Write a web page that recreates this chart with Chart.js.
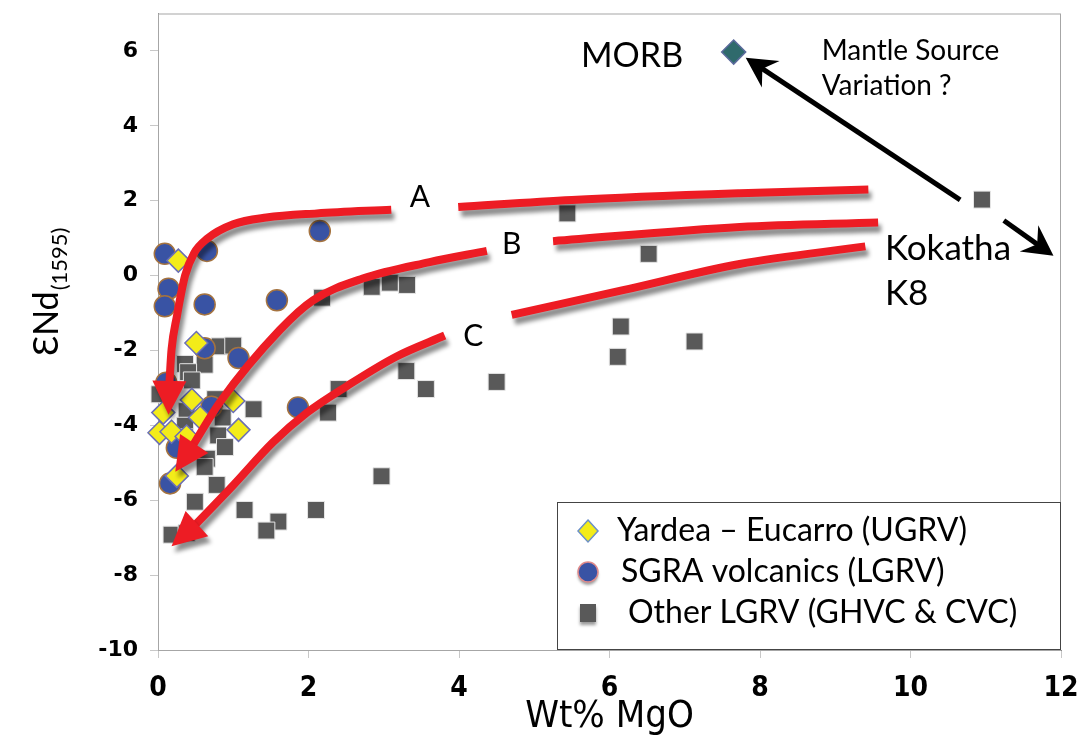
<!DOCTYPE html>
<html>
<head>
    <meta charset="utf-8">
    <title>eNd(1595) vs Wt% MgO</title>
    <style>
        body {
            margin: 0;
            background-color: #fff;
        }
        .wrap {
            position: relative;
            width: 1081px;
            height: 738px;
        }
    </style>
</head>
<body>
    <div class="wrap">
        <canvas id="nd-chart"></canvas>
    </div>

    <script src="https://cdn.jsdelivr.net/npm/chart.js"></script>
    <script>
        // samples as [Wt% MgO, eNd(1595)]
        const yardea = [[0.27, 0.4], [0.51, -1.8], [0.45, -3.32], [1.0, -3.35], [0.07, -3.66], [0.56, -3.79],
            [0.02, -4.2], [0.18, -4.17], [0.38, -4.3], [1.07, -4.12], [0.25, -5.35]];
        const sgra = [[0.09, 0.58], [0.65, 0.66], [2.15, 1.19], [0.14, -0.35], [0.09, -0.82], [0.62, -0.77],
            [1.58, -0.66], [0.62, -1.94], [1.07, -2.2], [0.11, -2.86], [0.71, -3.5], [1.86, -3.52],
            [0.25, -4.6], [0.16, -5.55]];
        const otherLgrv = [[5.44, 1.66], [10.95, 2.03], [6.52, 0.58], [6.15, -1.36], [6.11, -2.17], [7.13, -1.76],
            [2.18, -0.59], [2.84, -0.3], [3.08, -0.19], [3.31, -0.25], [3.3, -2.55], [3.56, -3.03],
            [4.5, -2.84], [2.4, -3.03], [2.26, -3.66], [2.97, -5.36], [2.1, -6.26], [1.6, -6.57],
            [1.44, -6.81], [1.15, -6.26], [1.27, -3.57], [0.82, -1.89], [1.0, -1.87], [0.62, -2.38],
            [0.36, -2.36], [0.4, -2.58], [0.45, -2.8], [0.02, -3.17], [0.76, -3.3], [0.86, -3.79],
            [0.38, -3.62], [0.36, -4.01], [0.8, -4.27], [0.89, -4.58], [0.65, -4.89], [0.62, -5.11],
            [0.78, -5.59], [0.49, -6.04], [0.18, -6.92], [0.38, -6.88], [0.36, -4.32]];
        const morb = [[7.65, 5.97]];

        // hand drawn trends A, B, C, each broken where its letter sits
        const trendA1 = [[0.15, -2.91], [0.18, -1.98], [0.25, -1.1], [0.36, 0.0], [0.48, 0.6], [0.65, 0.98],
            [1.0, 1.37], [1.44, 1.55], [2.11, 1.66], [3.1, 1.76]];
        const trendA2 = [[3.99, 1.83], [5.5, 2.02], [7.73, 2.2], [9.44, 2.3]];
        const trendB1 = [[0.45, -4.58], [0.82, -3.39], [1.62, -1.45], [2.06, -0.66], [2.72, -0.08],
            [3.61, 0.36], [4.37, 0.66]];
        const trendB2 = [[5.25, 0.92], [7.73, 1.3], [9.57, 1.42]];
        const trendC1 = [[0.47, -6.71], [1.0, -5.6], [1.53, -4.45], [1.98, -3.66], [2.51, -2.95],
            [3.17, -2.16], [3.81, -1.6]];
        const trendC2 = [[4.7, -1.05], [6.18, -0.39], [7.73, 0.31], [9.4, 0.78]];

        // arrow heads on the trends: [start of head, tip]
        const trendHeads = [[[0.15, -2.91], [0.14, -3.72]], [[0.45, -4.58], [0.23, -5.24]],
            [[0.47, -6.71], [0.18, -7.23]]];
        // mantle source arrows: [from, to]
        const sourceArrows = [[[10.66, 2.02], [7.81, 5.82]], [[11.24, 1.47], [11.9, 0.53]]];

        const noteText = ["MORB", "Mantle Source", "Variation ?", "Kokatha", "K8", "A", "B", "C"];
        const noteAt = [[6.3, 5.86], [8.82, 6.0], [8.82, 5.07], [9.66, 0.71], [9.66, -0.48],
            [3.48, 2.08], [4.7, 0.84], [4.19, -1.62]];

        const seriesNames = ["Yardea \u2013 Eucarro (UGRV)", "SGRA volcanics (LGRV)", "Other LGRV (GHVC & CVC)"];
        const xTickValues = [0, 2, 4, 6, 8, 10, 12];
        const yTickValues = [-10, -8, -6, -4, -2, 0, 2, 4, 6];

        const toPts = arr => arr.map(([x, y]) => ({ x: x, y: y }));
        const RED = "#ed1c24";

        function trend(arr) {
            return {
                data: toPts(arr),
                showLine: true,
                pointRadius: 0,
                borderColor: RED,
                borderWidth: 8,
                cubicInterpolationMode: "monotone",
                order: -1,
                clip: false,
                shadow: true,
            };
        }

        function setShadow(ctx) {
            ctx.shadowColor = "rgba(0,0,0,0.45)";
            ctx.shadowBlur = 4;
            ctx.shadowOffsetX = 3;
            ctx.shadowOffsetY = 6;
        }

        const extras = {
            id: "extras",
            beforeDatasetDraw(chart, args) {
                if (chart.data.datasets[args.index].shadow) {
                    chart.ctx.save();
                    setShadow(chart.ctx);
                }
            },
            afterDatasetDraw(chart, args) {
                if (chart.data.datasets[args.index].shadow) chart.ctx.restore();
            },
            beforeDatasetsDraw(chart) {
                const { ctx, chartArea: a } = chart;
                ctx.save();
                ctx.strokeStyle = "#a6a6a6";
                ctx.lineWidth = 1;
                ctx.strokeRect(a.left + 0.5, a.top + 0.5, a.width - 1, a.height);
                ctx.restore();
            },
            afterDatasetsDraw(chart) {
                const { ctx, scales: { x, y } } = chart;
                const px = p => [x.getPixelForValue(p[0]), y.getPixelForValue(p[1])];

                // red arrow heads
                ctx.save();
                setShadow(ctx);
                ctx.fillStyle = RED;
                trendHeads.forEach(([from, to]) => {
                    const [x0, y0] = px(from), [x1, y1] = px(to);
                    const len = Math.hypot(x1 - x0, y1 - y0);
                    const dx = (x1 - x0) / len, dy = (y1 - y0) / len;
                    const bx = x1 - dx * 34, by = y1 - dy * 34;
                    ctx.beginPath();
                    ctx.moveTo(x1, y1);
                    ctx.lineTo(bx - dy * 17, by + dx * 17);
                    ctx.lineTo(bx + dy * 17, by - dx * 17);
                    ctx.closePath();
                    ctx.fill();
                });
                ctx.restore();

                // black arrows
                ctx.save();
                ctx.strokeStyle = "#000";
                ctx.fillStyle = "#000";
                ctx.lineWidth = 5;
                sourceArrows.forEach(([from, to]) => {
                    const [x0, y0] = px(from), [x1, y1] = px(to);
                    const len = Math.hypot(x1 - x0, y1 - y0);
                    const dx = (x1 - x0) / len, dy = (y1 - y0) / len;
                    ctx.beginPath();
                    ctx.moveTo(x0, y0);
                    ctx.lineTo(x1 - dx * 18, y1 - dy * 18);
                    ctx.stroke();
                    const bx = x1 - dx * 30, by = y1 - dy * 30;
                    ctx.beginPath();
                    ctx.moveTo(x1, y1);
                    ctx.lineTo(bx - dy * 16, by + dx * 16);
                    ctx.lineTo(x1 - dx * 20, y1 - dy * 20);
                    ctx.lineTo(bx + dy * 16, by - dx * 16);
                    ctx.closePath();
                    ctx.fill();
                });
                ctx.restore();

                // notes
                const sizes = [34, 28, 28, 35, 35, 30, 30, 30];
                ctx.save();
                ctx.fillStyle = "#000";
                ctx.textBaseline = "middle";
                noteText.forEach((t, i) => {
                    ctx.font = sizes[i] + "px Lato";
                    ctx.textAlign = i === 0 || i > 4 ? "center" : "left";
                    const [tx, ty] = px(noteAt[i]);
                    ctx.fillText(t, tx, ty);
                });
                ctx.restore();
            },
            afterDraw(chart) {
                const { ctx, chartArea: a } = chart;

                // y title with subscript
                ctx.save();
                ctx.translate(58, 356);
                ctx.rotate(-Math.PI / 2);
                ctx.fillStyle = "#000";
                ctx.textBaseline = "alphabetic";
                ctx.font = "34px Lato";
                ctx.fillText("\u0190Nd", 0, 0);
                const w = ctx.measureText("\u0190Nd").width;
                ctx.font = "22px Lato";
                ctx.fillText("(1595)", w + 1, 9);
                ctx.restore();

                // legend
                const left = a.right - 504, top = a.bottom - 148;
                ctx.save();
                ctx.fillStyle = "#fff";
                ctx.fillRect(left, top, 504, 148);
                ctx.strokeStyle = "#444";
                ctx.lineWidth = 1;
                ctx.strokeRect(left + 0.5, top + 0.5, 503, 147);

                const mx = left + 31;
                const rows = [top + 29, top + 70, top + 111];
                // diamond
                ctx.beginPath();
                ctx.moveTo(mx, rows[0] - 11);
                ctx.lineTo(mx + 10, rows[0]);
                ctx.lineTo(mx, rows[0] + 11);
                ctx.lineTo(mx - 10, rows[0]);
                ctx.closePath();
                ctx.fillStyle = "#f3ec19";
                ctx.fill();
                ctx.strokeStyle = "#6b8fc8";
                ctx.lineWidth = 1.5;
                ctx.stroke();
                // circle + square with a soft shadow
                ctx.save();
                ctx.shadowColor = "rgba(0,0,0,0.4)";
                ctx.shadowBlur = 3;
                ctx.shadowOffsetY = 3;
                ctx.beginPath();
                ctx.arc(mx, rows[1], 10, 0, Math.PI * 2);
                ctx.fillStyle = "#3953a4";
                ctx.fill();
                ctx.shadowColor = "transparent";
                ctx.strokeStyle = "#e08a8a";
                ctx.stroke();
                ctx.shadowColor = "rgba(0,0,0,0.4)";
                ctx.fillStyle = "#595959";
                ctx.fillRect(mx - 8, rows[2] - 9, 16, 18);
                ctx.restore();

                ctx.fillStyle = "#000";
                ctx.font = "32px Lato";
                ctx.textBaseline = "middle";
                ctx.fillText(seriesNames[0], left + 60, rows[0]);
                ctx.fillText(seriesNames[1], left + 64, rows[1]);
                ctx.fillText(seriesNames[2], left + 71, rows[2]);
                ctx.restore();
            },
        };

        const ctx = document.getElementById("nd-chart").getContext("2d");
        new Chart(ctx, {
            type: "scatter",
            data: {
                datasets: [
                    trend(trendA1), trend(trendA2), trend(trendB1), trend(trendB2), trend(trendC1), trend(trendC2),
                    {
                        label: "MORB",
                        data: toPts(morb),
                        pointStyle: "rectRot",
                        pointRadius: 12,
                        backgroundColor: "#2f6a6c",
                        borderColor: "#5b6a9c",
                        borderWidth: 1.5,
                        order: 0,
                        clip: false,
                    },
                    {
                        label: seriesNames[0],
                        data: toPts(yardea),
                        pointStyle: "rectRot",
                        pointRadius: 11.5,
                        backgroundColor: "#f3ec19",
                        borderColor: "#6b6fb5",
                        borderWidth: 1.5,
                        order: 1,
                        clip: false,
                    },
                    {
                        label: seriesNames[1],
                        data: toPts(sgra),
                        pointStyle: "circle",
                        pointRadius: 10.5,
                        backgroundColor: "#3953a4",
                        borderColor: "#a5733f",
                        borderWidth: 1.5,
                        order: 2,
                        clip: false,
                    },
                    {
                        label: seriesNames[2],
                        data: toPts(otherLgrv),
                        pointStyle: "rect",
                        pointRadius: 12,
                        backgroundColor: "#595959",
                        borderColor: "#e6e6e6",
                        borderWidth: 1,
                        order: 3,
                        clip: false,
                    },
                ],
            },
            options: {
                responsive: true,
                maintainAspectRatio: false,
                animation: false,
                events: [],
                layout: { padding: { top: 8, right: 20, left: 0, bottom: 0 } },
                plugins: {
                    legend: { display: false },
                    tooltip: { enabled: false },
                },
                scales: {
                    x: {
                        type: "linear",
                        min: 0,
                        max: 12,
                        afterBuildTicks: s => { s.ticks = xTickValues.map(v => ({ value: v })); },
                        afterFit: s => { s.height = 88; s.paddingLeft = 0; s.paddingRight = 0; },
                        grid: { drawOnChartArea: false, tickLength: 8, color: "#c8c8c8" },
                        border: { color: "#8c8c8c" },
                        ticks: {
                            padding: 14,
                            color: "#000",
                            font: { family: "'Liberation Sans Narrow', 'DejaVu Sans Condensed', sans-serif", size: 28, weight: "bold" },
                        },
                        title: {
                            display: true,
                            text: "Wt% MgO",
                            color: "#000",
                            padding: { top: 0, bottom: 0 },
                            font: { family: "'Liberation Sans Narrow', 'DejaVu Sans Condensed', sans-serif", size: 38, lineHeight: 1.1 },
                        },
                    },
                    y: {
                        type: "linear",
                        min: -10,
                        max: 7,
                        afterBuildTicks: s => { s.ticks = yTickValues.map(v => ({ value: v })); },
                        afterFit: s => { s.width = 158; s.paddingTop = 0; s.paddingBottom = 0; },
                        grid: { drawOnChartArea: false, tickLength: 8, color: "#c8c8c8" },
                        border: { color: "#8c8c8c" },
                        ticks: {
                            padding: 12,
                            color: "#000",
                            font: { family: "'DejaVu Sans'", size: 22, weight: "bold" },
                        },
                    },
                },
            },
            plugins: [extras],
        });
    </script>
</body>
</html>
